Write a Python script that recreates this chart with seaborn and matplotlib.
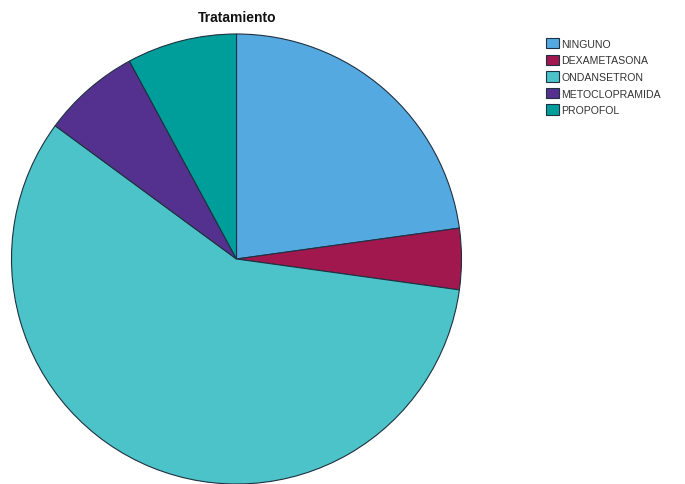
import matplotlib
matplotlib.use("Agg")
import matplotlib.pyplot as plt
import seaborn as sns

# Patients by treatment group
categories = ["NINGUNO", "DEXAMETASONA", "ONDANSETRON", "METOCLOPRAMIDA", "PROPOFOL"]
counts = [26, 5, 66, 8, 9]
colors = ["#55a9e1", "#a1184f", "#4cc3c9", "#55318f", "#009e9a"]

sns.set_theme(style="white")
plt.rcParams["font.family"] = ["Liberation Sans", "DejaVu Sans"]

fig = plt.figure(figsize=(6.85, 4.85), dpi=100)
ax = fig.add_axes([0, 0, 1, 1])

wedges, _ = ax.pie(
    counts,
    colors=colors,
    startangle=90,
    counterclock=False,
    center=(236.5, 225),
    radius=225,
    frame=True,
    wedgeprops=dict(edgecolor="#1e3140", linewidth=0.8),
)
ax.set_xlim(0, 685)
ax.set_ylim(0, 485)
ax.set_aspect("equal")
ax.axis("off")

ax.text(237, 467, "Tratamiento", ha="center", va="center",
        fontsize=10, fontweight="bold", color="#111111")

leg = ax.legend(
    wedges, categories,
    loc="upper left", bbox_to_anchor=(546 / 685, 1 - 39 / 485),
    frameon=False, fontsize=7.6,
    handlelength=1.25, handleheight=1.15, handletextpad=0.2,
    labelspacing=0.55, borderaxespad=0, borderpad=0,
)
for t in leg.get_texts():
    t.set_color("#333333")

fig.savefig("out.png", dpi=100)
